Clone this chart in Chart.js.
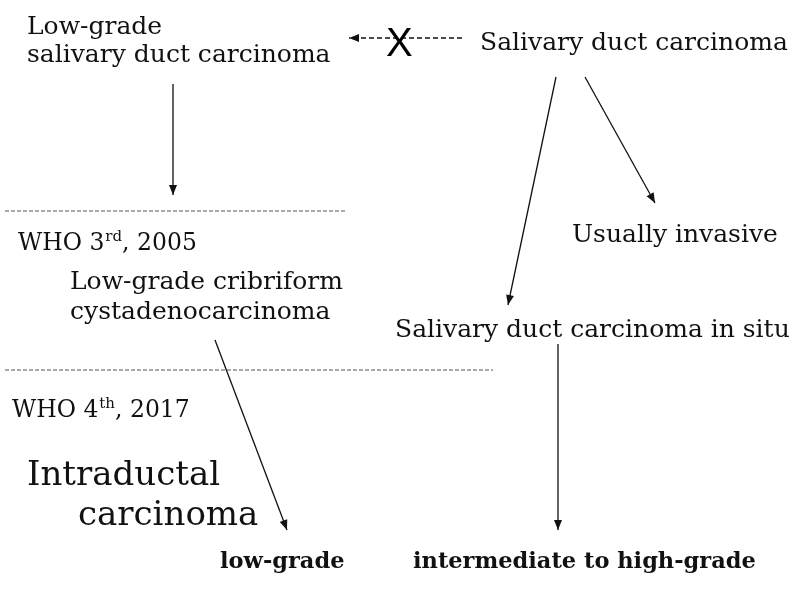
<!DOCTYPE html>
<html><head><meta charset="utf-8">
<script src="https://cdn.jsdelivr.net/npm/chart.js@4"></script>
<style>html,body{margin:0;padding:0;background:#fff}#wrap{width:799px;height:610px}</style>
</head><body><div id="wrap"><canvas id="c" width="799" height="610"></canvas></div>
<script>
// Diagram nodes (text labels), placed in the diagram's coordinate space
const nodeText = [
  "Low-grade",
  "salivary duct carcinoma",
  "Salivary duct carcinoma",
  "WHO 3|rd|, 2005",
  "Low-grade cribriform",
  "cystadenocarcinoma",
  "Usually invasive",
  "Salivary duct carcinoma in situ",
  "WHO 4|th|, 2017",
  "Intraductal",
  "carcinoma",
  "low-grade",
  "intermediate to high-grade"
];
const nodeX = [27, 27, 480, 18, 70, 70, 572, 395, 12, 27, 78, 220, 413];
const nodeY = [34, 62, 50, 250, 289, 319, 242, 337, 417, 485, 525, 568, 568];
const nodeKind = ["n","n","n","s","n","n","n","n","s","L","L","b","b"];

// Arrows: [x1, y1, x2, y2]
const arrowFromX = [173, 556, 585, 558, 215, 462];
const arrowFromY = [84, 77, 77, 344, 340, 38];
const arrowToX   = [173, 508, 655, 558, 287, 349];
const arrowToY   = [195, 305, 203, 530, 530, 38];
const arrowDashed = [false, false, false, false, false, true];

// Dashed separator lines
const sepFromX = [5, 5];
const sepToX = [347, 493];
const sepY = [211, 370];

const fonts = {
  n: '25px "DejaVu Serif"',
  s: '23.5px "DejaVu Serif"',
  sup: '15px "DejaVu Serif"',
  L: '34px "DejaVu Serif"',
  b: 'bold 22.5px "DejaVu Serif"'
};

const datasets = [];
arrowFromX.forEach((x, i) => {
  datasets.push({
    data: [{x: x, y: arrowFromY[i]}, {x: arrowToX[i], y: arrowToY[i]}],
    showLine: true, pointRadius: 0, borderColor: '#111', borderWidth: 1.3,
    borderDash: arrowDashed[i] ? [5, 3] : [], arrow: true
  });
});
sepY.forEach((y, i) => {
  datasets.push({
    data: [{x: sepFromX[i], y: y}, {x: sepToX[i], y: y}],
    showLine: true, pointRadius: 0, borderColor: '#555', borderWidth: 1,
    borderDash: [4, 2]
  });
});

const diagramPlugin = {
  id: 'diagram',
  afterDatasetsDraw(chart) {
    const ctx = chart.ctx, xs = chart.scales.x, ys = chart.scales.y;
    ctx.save();
    // arrowheads
    chart.data.datasets.forEach(ds => {
      if (!ds.arrow) return;
      const a = ds.data[0], b = ds.data[1];
      const x1 = xs.getPixelForValue(a.x), y1 = ys.getPixelForValue(a.y);
      const x2 = xs.getPixelForValue(b.x), y2 = ys.getPixelForValue(b.y);
      const ang = Math.atan2(y2 - y1, x2 - x1);
      const L = 10, W = 4;
      ctx.fillStyle = '#111';
      ctx.beginPath();
      ctx.moveTo(x2, y2);
      ctx.lineTo(x2 - L*Math.cos(ang) + W*Math.sin(ang), y2 - L*Math.sin(ang) - W*Math.cos(ang));
      ctx.lineTo(x2 - L*Math.cos(ang) - W*Math.sin(ang), y2 - L*Math.sin(ang) + W*Math.cos(ang));
      ctx.closePath();
      ctx.fill();
    });
    // the X on the dashed arrow
    ctx.fillStyle = '#000';
    ctx.font = '40px "Liberation Sans"';
    ctx.textBaseline = 'alphabetic';
    ctx.fillText('X', xs.getPixelForValue(386), ys.getPixelForValue(56));
    // labels
    nodeText.forEach((t, i) => {
      const kind = nodeKind[i];
      let px = xs.getPixelForValue(nodeX[i]);
      const py = ys.getPixelForValue(nodeY[i]);
      ctx.fillStyle = '#111';
      if (kind === 's') {
        const parts = t.split('|');
        ctx.font = fonts.s;
        ctx.fillText(parts[0], px, py); px += ctx.measureText(parts[0]).width;
        ctx.font = fonts.sup;
        ctx.fillText(parts[1], px + 1, py - 9); px += ctx.measureText(parts[1]).width + 1;
        ctx.font = fonts.s;
        ctx.fillText(parts[2], px, py);
      } else {
        ctx.font = fonts[kind];
        ctx.fillText(t, px, py);
      }
    });
    ctx.restore();
  }
};

new Chart(document.getElementById('c'), {
  type: 'scatter',
  data: { datasets },
  options: {
    responsive: false, animation: false,
    layout: { padding: 0 },
    plugins: { legend: { display: false }, tooltip: { enabled: false } },
    scales: {
      x: { type: 'linear', min: 0, max: 799, display: false },
      y: { type: 'linear', min: 0, max: 610, reverse: true, display: false }
    }
  },
  plugins: [diagramPlugin]
});
</script></body></html>
